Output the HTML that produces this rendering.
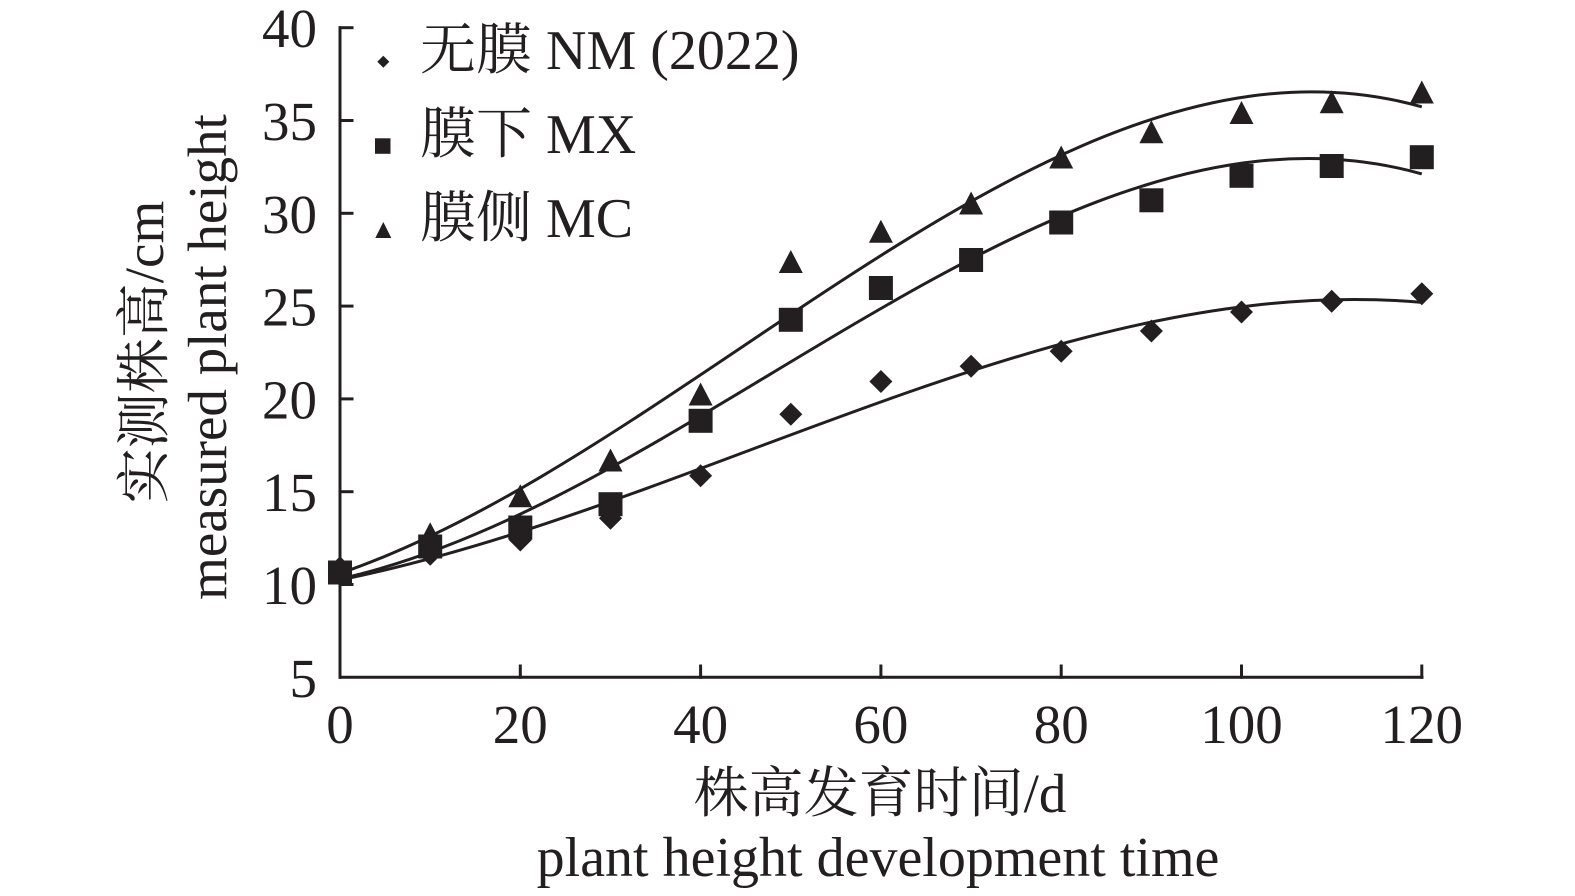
<!DOCTYPE html>
<html>
<head>
<meta charset="utf-8">
<style>
  html, body { margin: 0; padding: 0; background: #ffffff; }
  body { width: 1575px; height: 896px; overflow: hidden; }
  svg { display: block; }
  text { font-family: "Liberation Serif", "Noto Serif CJK SC", serif; fill: #231f20; }
</style>
</head>
<body>
<svg width="1575" height="896" viewBox="0 0 1575 896" xmlns="http://www.w3.org/2000/svg">
  <rect x="0" y="0" width="1575" height="896" fill="#ffffff"/>

  <!-- Axes -->
  <g stroke="#231f20" stroke-width="3" fill="none" stroke-linecap="square">
    <line x1="340" y1="27.7" x2="340" y2="677.3"/>
    <line x1="340" y1="677.3" x2="1422" y2="677.3"/>
    <!-- y ticks (inward) -->
    <line x1="340" y1="27.7" x2="352" y2="27.7"/>
    <line x1="340" y1="120.5" x2="352" y2="120.5"/>
    <line x1="340" y1="213.3" x2="352" y2="213.3"/>
    <line x1="340" y1="306.1" x2="352" y2="306.1"/>
    <line x1="340" y1="398.9" x2="352" y2="398.9"/>
    <line x1="340" y1="491.7" x2="352" y2="491.7"/>
    <line x1="340" y1="584.5" x2="352" y2="584.5"/>
    <!-- x ticks (inward) -->
    <line x1="520.3" y1="677.3" x2="520.3" y2="666"/>
    <line x1="700.6" y1="677.3" x2="700.6" y2="666"/>
    <line x1="880.9" y1="677.3" x2="880.9" y2="666"/>
    <line x1="1061.2" y1="677.3" x2="1061.2" y2="666"/>
    <line x1="1241.5" y1="677.3" x2="1241.5" y2="666"/>
    <line x1="1421.8" y1="677.3" x2="1421.8" y2="666"/>
  </g>

  <!-- Y tick labels -->
  <g font-size="55" text-anchor="end">
    <text x="317" y="47">40</text>
    <text x="317" y="140">35</text>
    <text x="317" y="233">30</text>
    <text x="317" y="325.6">25</text>
    <text x="317" y="418.4">20</text>
    <text x="317" y="511.2">15</text>
    <text x="317" y="604">10</text>
    <text x="317" y="697">5</text>
  </g>

  <!-- X tick labels -->
  <g font-size="55" text-anchor="middle">
    <text x="340" y="743">0</text>
    <text x="520.3" y="743">20</text>
    <text x="700.6" y="743">40</text>
    <text x="880.9" y="743">60</text>
    <text x="1061.2" y="743">80</text>
    <text x="1241.5" y="743">100</text>
    <text x="1421.8" y="743">120</text>
  </g>

  <!-- Axis titles -->
  <text x="880" y="812" font-size="55" text-anchor="middle">株高发育时间/d</text>
  <text x="878" y="876" font-size="56" text-anchor="middle">plant height development time</text>
  <text transform="translate(163,352) rotate(-90)" font-size="55" text-anchor="middle">实测株高/cm</text>
  <text transform="translate(226,357) rotate(-90)" font-size="55" text-anchor="middle">measured plant height</text>

  <!-- Trend curves -->
  <g stroke="#231f20" stroke-width="3" fill="none">
    <path d="M340,573.4 C700.6,449.6 1061.2,5.1 1421.8,106.8"/>
    <path d="M340,578.9 C700.6,499.0 1061.2,72.8 1421.8,173.9"/>
    <path d="M340,580.0 C700.6,507.0 1061.2,270.5 1421.8,302.4"/>
  </g>

  <!-- NM diamonds -->
  <g fill="#231f20">
    <path d="M340,556.2 l11.5,11.5 l-11.5,11.5 l-11.5,-11.5z"/>
    <path d="M430.2,542.8 l11.5,11.5 l-11.5,11.5 l-11.5,-11.5z"/>
    <path d="M520.3,528.5 l11.5,11.5 l-11.5,11.5 l-11.5,-11.5z"/>
    <path d="M610.5,506.8 l11.5,11.5 l-11.5,11.5 l-11.5,-11.5z"/>
    <path d="M700.6,464.3 l11.5,11.5 l-11.5,11.5 l-11.5,-11.5z"/>
    <path d="M790.8,402.8 l11.5,11.5 l-11.5,11.5 l-11.5,-11.5z"/>
    <path d="M880.9,370 l11.5,11.5 l-11.5,11.5 l-11.5,-11.5z"/>
    <path d="M971.1,354.7 l11.5,11.5 l-11.5,11.5 l-11.5,-11.5z"/>
    <path d="M1061.2,339.8 l11.5,11.5 l-11.5,11.5 l-11.5,-11.5z"/>
    <path d="M1151.4,319.5 l11.5,11.5 l-11.5,11.5 l-11.5,-11.5z"/>
    <path d="M1241.5,300.5 l11.5,11.5 l-11.5,11.5 l-11.5,-11.5z"/>
    <path d="M1331.7,289.8 l11.5,11.5 l-11.5,11.5 l-11.5,-11.5z"/>
    <path d="M1421.8,282.3 l11.5,11.5 l-11.5,11.5 l-11.5,-11.5z"/>
  </g>

  <!-- MC triangles -->
  <g fill="#231f20">
    <path d="M340,558.5 l12,23 h-24z"/>
    <path d="M430.2,522.2 l12,23 h-24z"/>
    <path d="M520.3,484.3 l12,23 h-24z"/>
    <path d="M610.5,448.5 l12,23 h-24z"/>
    <path d="M700.6,382.5 l12,23 h-24z"/>
    <path d="M790.8,250 l12,23 h-24z"/>
    <path d="M880.9,219.8 l12,23 h-24z"/>
    <path d="M971.1,191.5 l12,23 h-24z"/>
    <path d="M1061.2,145.5 l12,23 h-24z"/>
    <path d="M1151.4,120.2 l12,23 h-24z"/>
    <path d="M1241.5,101 l12,23 h-24z"/>
    <path d="M1331.7,90.2 l12,23 h-24z"/>
    <path d="M1421.8,80.5 l12,23 h-24z"/>
  </g>

  <!-- MX squares -->
  <g fill="#231f20">
    <rect x="328" y="560.5" width="24" height="24"/>
    <rect x="418.2" y="534.5" width="24" height="24"/>
    <rect x="508.3" y="515.5" width="24" height="24"/>
    <rect x="598.5" y="492.2" width="24" height="24"/>
    <rect x="688.6" y="408.8" width="24" height="24"/>
    <rect x="778.8" y="307.8" width="24" height="24"/>
    <rect x="868.9" y="276" width="24" height="24"/>
    <rect x="959.1" y="248" width="24" height="24"/>
    <rect x="1049.2" y="210.5" width="24" height="24"/>
    <rect x="1139.4" y="188.3" width="24" height="24"/>
    <rect x="1229.5" y="163.8" width="24" height="24"/>
    <rect x="1319.7" y="154" width="24" height="24"/>
    <rect x="1409.8" y="145.2" width="24" height="24"/>
  </g>

  <!-- Legend -->
  <g fill="#231f20">
    <path d="M383.3,55.7 l6,6 l-6,6 l-6,-6z"/>
    <rect x="375" y="138.3" width="15.5" height="15.5"/>
    <path d="M383.3,222 l8,16 h-16z"/>
  </g>
  <g font-size="56">
    <text x="420" y="69">无膜 NM (2022)</text>
    <text x="420" y="153">膜下 MX</text>
    <text x="420" y="237">膜侧 MC</text>
  </g>
</svg>
</body>
</html>
